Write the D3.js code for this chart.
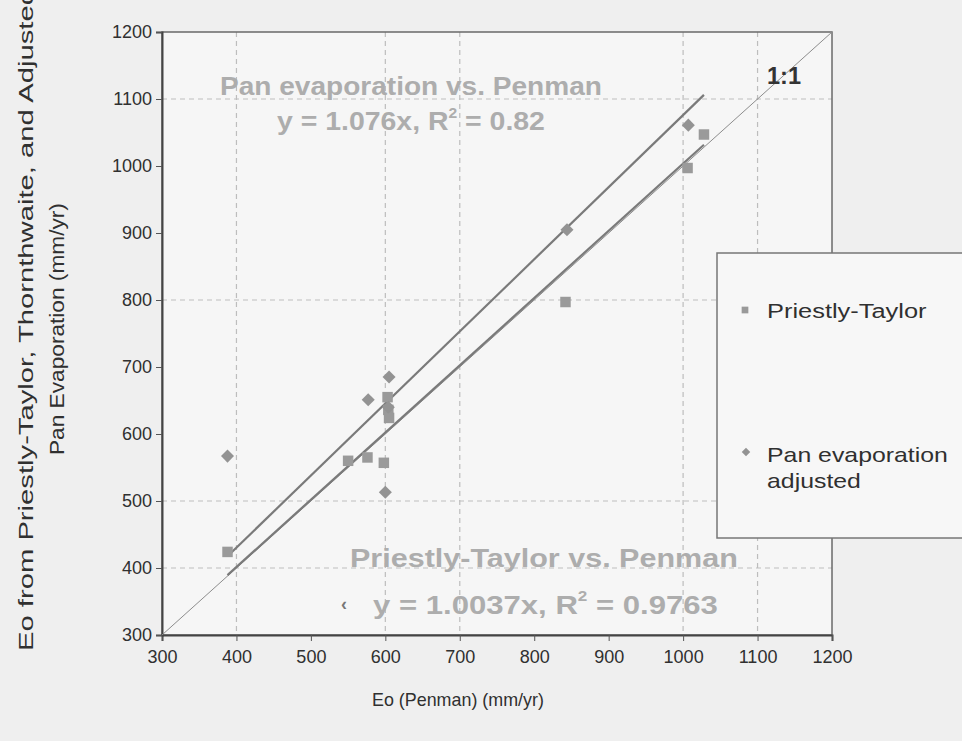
<!DOCTYPE html>
<html>
<head>
<meta charset="utf-8">
<script src="https://cdn.jsdelivr.net/npm/d3@7/dist/d3.min.js"></script>
<style>
  html, body { margin: 0; padding: 0; background: #efefef; }
  svg { display: block; font-family: "Liberation Sans", Arial, sans-serif; }
</style>
</head>
<body>
<svg id="chart" width="962" height="741"></svg>
<script>
// axis ticks
const xTicks = [300, 400, 500, 600, 700, 800, 900, 1000, 1100, 1200];
const yTicks = [300, 400, 500, 600, 700, 800, 900, 1000, 1100, 1200];
// the dashed grid lines that survive in the scan
const gridX = [400, 600, 700, 1000, 1100];
const gridY = [400, 500, 800, 1100];

// Priestly-Taylor vs Penman (mm/yr)
const ptPenman = [388, 550, 576, 598, 603, 604, 605, 842, 1006, 1028];
const ptValue  = [424, 560, 565, 557, 655, 636, 624, 797, 997, 1047];
// adjusted pan evaporation vs Penman (mm/yr)
const panPenman = [388, 577, 605, 600, 604, 844, 1007];
const panValue  = [567, 651, 685, 513, 640, 905, 1061];

// trendlines through the origin
const ptSlope = 1.0037;
const panSlope = 1.076;
const trendFrom = 388, trendTo = 1028;

const seriesNames = ["Priestly-Taylor", "Pan evaporation", "adjusted"];

const W = 962, H = 741;
const M = { left: 162, right: 832, top: 32, bottom: 635 };

const svg = d3.select("#chart");
const x = d3.scaleLinear().domain([300, 1200]).range([M.left, M.right]);
const y = d3.scaleLinear().domain([300, 1200]).range([M.bottom, M.top]);

const INK = "#303030";
const MARK = "#9a9a9a";
const LINE = "#7a7a7a";
const NOTE = "#adadad";

// squeeze/stretch a text block to a measured width (the scan is not 1:1)
function fitText(parent, px, py, width, rotate, build) {
  const g = parent.append("g");
  const t = g.append("text");
  build(t);
  const w = t.node().getBBox().width;
  const k = width / w;
  g.attr("transform", `translate(${px},${py})` + (rotate ? " rotate(-90)" : "") + ` scale(${k},1)`);
  return t;
}

// background and plot area
svg.append("rect").attr("width", W).attr("height", H).attr("fill", "#efefef");
svg.append("rect")
  .attr("x", M.left).attr("y", M.top)
  .attr("width", M.right - M.left).attr("height", M.bottom - M.top)
  .attr("fill", "#f6f6f6");

// grid
const grid = svg.append("g").attr("stroke", "#bdbdbd").attr("stroke-width", 1.2)
  .attr("stroke-dasharray", "5 4");
grid.selectAll("line.gx").data(gridX).join("line").attr("class", "gx")
  .attr("x1", d => x(d)).attr("x2", d => x(d))
  .attr("y1", M.top).attr("y2", M.bottom);
grid.selectAll("line.gy").data(gridY).join("line").attr("class", "gy")
  .attr("y1", d => y(d)).attr("y2", d => y(d))
  .attr("x1", M.left).attr("x2", M.right);

// frame
svg.append("rect")
  .attr("x", M.left).attr("y", M.top)
  .attr("width", M.right - M.left).attr("height", M.bottom - M.top)
  .attr("fill", "none").attr("stroke", "#6a6a6a").attr("stroke-width", 1.5);

// axes
const xAxis = svg.append("g").attr("transform", `translate(0,${M.bottom})`)
  .call(d3.axisBottom(x).tickValues(xTicks).tickSize(6).tickPadding(9).tickFormat(d3.format("d")));
const yAxis = svg.append("g").attr("transform", `translate(${M.left},0)`)
  .call(d3.axisLeft(y).tickValues(yTicks).tickSize(6).tickPadding(4).tickFormat(d3.format("d")));
[xAxis, yAxis].forEach(a => {
  a.attr("font-size", 18).attr("font-family", "'Liberation Sans', Arial, sans-serif");
  a.select(".domain").attr("stroke", "#444").attr("stroke-width", 2);
  a.selectAll(".tick line").attr("stroke", "#555");
  a.selectAll(".tick text").attr("fill", INK);
});

// 1:1 line
svg.append("line")
  .attr("x1", x(300)).attr("y1", y(300)).attr("x2", x(1200)).attr("y2", y(1200))
  .attr("stroke", "#8c8c8c").attr("stroke-width", 1);

// trendlines
[panSlope, ptSlope].forEach(s => {
  svg.append("line")
    .attr("x1", x(trendFrom)).attr("y1", y(trendFrom * s))
    .attr("x2", x(trendTo)).attr("y2", y(trendTo * s))
    .attr("stroke", LINE).attr("stroke-width", 2.2);
});

// points
const sq = d3.symbol().type(d3.symbolSquare).size(110);
const dm = d3.symbol().type(d3.symbolSquare).size(85);
svg.append("g").selectAll("path").data(d3.range(ptPenman.length)).join("path")
  .attr("transform", i => `translate(${x(ptPenman[i])},${y(ptValue[i])})`)
  .attr("d", sq).attr("fill", MARK);
svg.append("g").selectAll("path").data(d3.range(panPenman.length)).join("path")
  .attr("transform", i => `translate(${x(panPenman[i])},${y(panValue[i])}) rotate(45)`)
  .attr("d", dm).attr("fill", "#939393");

// annotations
function eq(t, fs, slope, r2) {
  t.attr("font-size", fs).attr("font-weight", "bold").attr("fill", NOTE);
  t.append("tspan").text(`y = ${slope}x, R`);
  t.append("tspan").attr("font-size", fs * 0.55).attr("dy", -fs * 0.5).text("2");
  t.append("tspan").attr("dy", fs * 0.5).text(` = ${r2}`);
}
fitText(svg, 220, 95, 382, false, t =>
  t.attr("font-size", 25).attr("font-weight", "bold").attr("fill", NOTE).text("Pan evaporation vs. Penman"));
fitText(svg, 277, 130, 268, false, t => eq(t, 25, panSlope, "0.82"));
fitText(svg, 350, 567, 388, false, t =>
  t.attr("font-size", 26).attr("font-weight", "bold").attr("fill", NOTE).text("Priestly-Taylor vs. Penman"));
fitText(svg, 373, 614, 345, false, t => eq(t, 26, ptSlope, "0.9763"));
svg.append("text").attr("x", 341).attr("y", 610).attr("font-size", 18).attr("font-weight", "bold")
  .attr("fill", "#777").text("‹");
fitText(svg, 767, 84, 34, false, t =>
  t.attr("font-size", 24).attr("font-weight", "bold").attr("fill", "#333").text("1:1"));

// axis titles
fitText(svg, 372, 706, 172, false, t =>
  t.attr("font-size", 18).attr("fill", INK).text("Eo (Penman) (mm/yr)"));
fitText(svg, 33, 651, 662, true, t =>
  t.attr("font-size", 21).attr("fill", INK).text("Eo from Priestly-Taylor, Thornthwaite, and Adjusted"));
fitText(svg, 64, 455, 252, true, t =>
  t.attr("font-size", 21).attr("fill", INK).text("Pan Evaporation (mm/yr)"));

// legend
const lg = svg.append("g");
lg.append("rect").attr("x", 717).attr("y", 253).attr("width", 270).attr("height", 285)
  .attr("fill", "#f7f7f7").attr("stroke", "#777").attr("stroke-width", 1.5);
lg.append("path").attr("transform", "translate(745,310)")
  .attr("d", d3.symbol().type(d3.symbolSquare).size(45)).attr("fill", MARK);
lg.append("path").attr("transform", "translate(746,452) rotate(45)")
  .attr("d", d3.symbol().type(d3.symbolSquare).size(36)).attr("fill", "#939393");
fitText(lg, 767, 318, 160, false, t =>
  t.attr("font-size", 20).attr("fill", INK).text(seriesNames[0]));
fitText(lg, 767, 462, 181, false, t => {
  t.attr("font-size", 20).attr("fill", INK);
  t.append("tspan").attr("x", 0).text(seriesNames[1]);
  t.append("tspan").attr("x", 0).attr("dy", 26).text(seriesNames[2]);
});
</script>
</body>
</html>
